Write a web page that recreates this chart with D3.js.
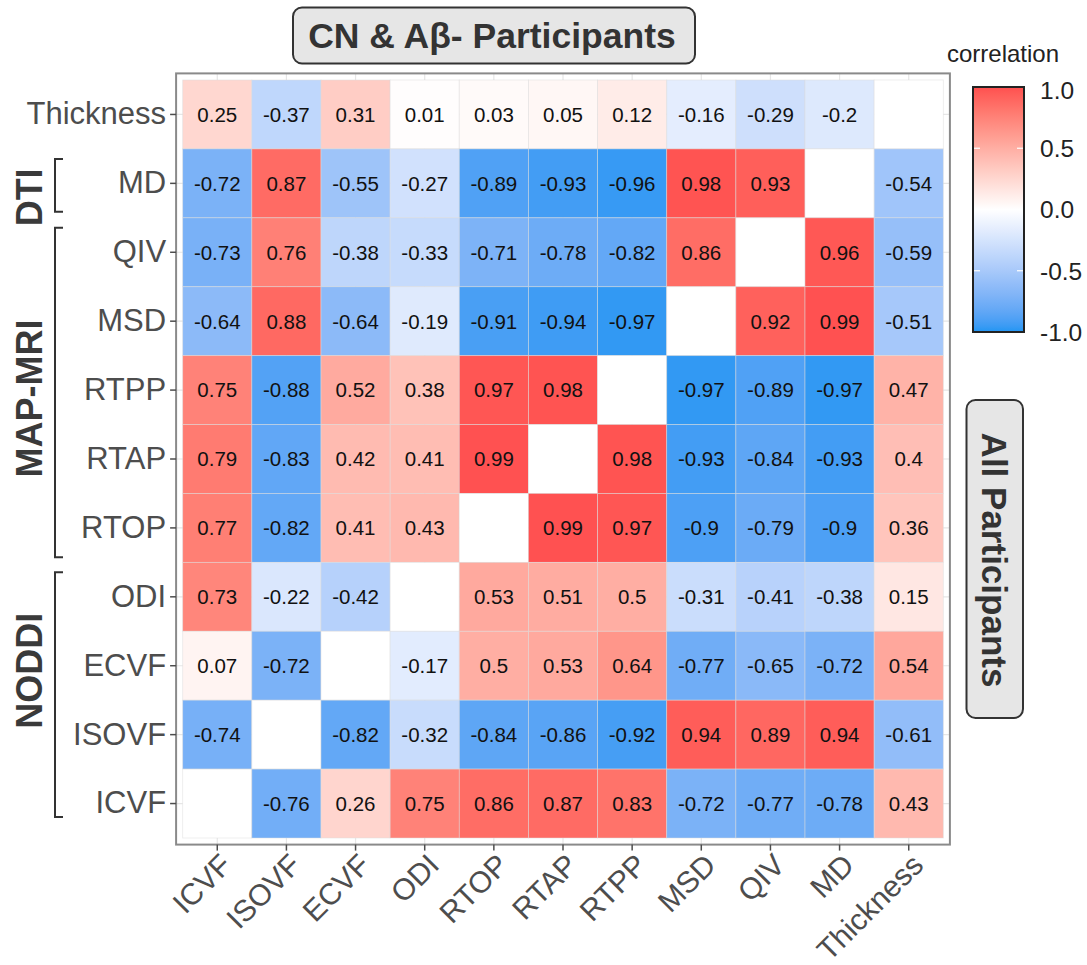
<!DOCTYPE html>
<html>
<head>
<meta charset="utf-8">
<script src="https://cdn.jsdelivr.net/npm/d3@7"></script>
<style>
  html, body { margin: 0; padding: 0; background: #ffffff; }
  svg { display: block; font-family: "Liberation Sans", Arial, Helvetica, sans-serif; }
</style>
</head>
<body>
<svg id="chart" width="1087" height="965"></svg>
<script>
// ---------------- data ----------------
const columns = ["ICVF","ISOVF","ECVF","ODI","RTOP","RTAP","RTPP","MSD","QIV","MD","Thickness"];
const rowsTopToBottom = ["Thickness","MD","QIV","MSD","RTPP","RTAP","RTOP","ODI","ECVF","ISOVF","ICVF"];

const rowThickness = [0.25, -0.37, 0.31, 0.01, 0.03, 0.05, 0.12, -0.16, -0.29, -0.2, null];
const rowMD        = [-0.72, 0.87, -0.55, -0.27, -0.89, -0.93, -0.96, 0.98, 0.93, null, -0.54];
const rowQIV       = [-0.73, 0.76, -0.38, -0.33, -0.71, -0.78, -0.82, 0.86, null, 0.96, -0.59];
const rowMSD       = [-0.64, 0.88, -0.64, -0.19, -0.91, -0.94, -0.97, null, 0.92, 0.99, -0.51];
const rowRTPP      = [0.75, -0.88, 0.52, 0.38, 0.97, 0.98, null, -0.97, -0.89, -0.97, 0.47];
const rowRTAP      = [0.79, -0.83, 0.42, 0.41, 0.99, null, 0.98, -0.93, -0.84, -0.93, 0.4];
const rowRTOP      = [0.77, -0.82, 0.41, 0.43, null, 0.99, 0.97, -0.9, -0.79, -0.9, 0.36];
const rowODI       = [0.73, -0.22, -0.42, null, 0.53, 0.51, 0.5, -0.31, -0.41, -0.38, 0.15];
const rowECVF      = [0.07, -0.72, null, -0.17, 0.5, 0.53, 0.64, -0.77, -0.65, -0.72, 0.54];
const rowISOVF     = [-0.74, null, -0.82, -0.32, -0.84, -0.86, -0.92, 0.94, 0.89, 0.94, -0.61];
const rowICVF      = [null, -0.76, 0.26, 0.75, 0.86, 0.87, 0.83, -0.72, -0.77, -0.78, 0.43];

const matrixRows = [rowThickness, rowMD, rowQIV, rowMSD, rowRTPP, rowRTAP, rowRTOP, rowODI, rowECVF, rowISOVF, rowICVF];

const groupNames = ["DTI", "MAP-MRI", "NODDI"];
const groupFirstRow = ["MD", "QIV", "ODI"];
const groupLastRow = ["MD", "RTOP", "ICVF"];

const legendTicks = [1.0, 0.5, 0.0, -0.5, -1.0];
const legendTitle = "correlation";
const titleText = "CN & Aβ- Participants";
const sideText = "All Participants";

// ---------------- layout ----------------
const svg = d3.select("#chart");
const tileX0 = 182.7, tileX1 = 943.3, tileY0 = 80, tileY1 = 838;
const pad = 6.6;

const x = d3.scaleBand().domain(columns).range([tileX0, tileX1]).padding(0);
const y = d3.scaleBand().domain(rowsTopToBottom).range([tileY0, tileY1]).padding(0);

const lowColor = "#2196F3", midColor = "#FFFFFF", highColor = "#FF4F4F";
const color = v => v >= 0 ? d3.interpolateLab(midColor, highColor)(v) : d3.interpolateLab(midColor, lowColor)(-v);

const cells = [];
rowsTopToBottom.forEach((r, i) => {
  columns.forEach((c, j) => {
    cells.push({ row: r, col: c, value: matrixRows[i][j] });
  });
});

// panel background + grid
const panel = svg.append("g");
panel.append("rect")
  .attr("x", tileX0 - pad).attr("y", tileY0 - pad)
  .attr("width", tileX1 - tileX0 + 2 * pad).attr("height", tileY1 - tileY0 + 2 * pad)
  .attr("fill", "#ffffff");
panel.selectAll("line.vg").data(columns).enter().append("line")
  .attr("x1", d => x(d) + x.bandwidth() / 2).attr("x2", d => x(d) + x.bandwidth() / 2)
  .attr("y1", tileY0 - pad).attr("y2", tileY1 + pad)
  .attr("stroke", "#e6e6e6").attr("stroke-width", 1.2);
panel.selectAll("line.hg").data(rowsTopToBottom).enter().append("line")
  .attr("y1", d => y(d) + y.bandwidth() / 2).attr("y2", d => y(d) + y.bandwidth() / 2)
  .attr("x1", tileX0 - pad).attr("x2", tileX1 + pad)
  .attr("stroke", "#e6e6e6").attr("stroke-width", 1.2);

// tiles
svg.append("g").selectAll("rect").data(cells).enter().append("rect")
  .attr("x", d => x(d.col)).attr("y", d => y(d.row))
  .attr("width", x.bandwidth()).attr("height", y.bandwidth())
  .attr("fill", d => d.value === null ? "#ffffff" : color(d.value))
  .attr("stroke", "#dcdcdc").attr("stroke-opacity", 0.6).attr("stroke-width", 0.8);

// tile labels
svg.append("g").selectAll("text").data(cells.filter(d => d.value !== null)).enter().append("text")
  .attr("x", d => x(d.col) + x.bandwidth() / 2)
  .attr("y", d => y(d.row) + y.bandwidth() / 2)
  .attr("dy", "0.36em")
  .attr("text-anchor", "middle")
  .attr("font-size", 20.5)
  .attr("fill", "#111111")
  .text(d => String(d.value));

// panel border
svg.append("rect")
  .attr("x", tileX0 - pad).attr("y", tileY0 - pad)
  .attr("width", tileX1 - tileX0 + 2 * pad).attr("height", tileY1 - tileY0 + 2 * pad)
  .attr("fill", "none").attr("stroke", "#8a8a8a").attr("stroke-width", 2);

// axes
const leftAxis = svg.append("g")
  .attr("transform", `translate(${tileX0 - pad},0)`)
  .call(d3.axisLeft(y).tickSize(6).tickPadding(4));
leftAxis.select(".domain").remove();
leftAxis.selectAll(".tick line").attr("stroke", "#4d4d4d").attr("stroke-width", 1.5);
leftAxis.selectAll(".tick text")
  .attr("font-size", 31).attr("fill", "#4d4d4d")
  .attr("font-family", "'Liberation Sans', Arial, sans-serif");

const bottomAxis = svg.append("g")
  .attr("transform", `translate(0,${tileY1 + pad})`)
  .call(d3.axisBottom(x).tickSize(6).tickPadding(4));
bottomAxis.select(".domain").remove();
bottomAxis.selectAll(".tick line").attr("stroke", "#4d4d4d").attr("stroke-width", 1.5);
bottomAxis.selectAll(".tick text")
  .attr("font-size", 30).attr("fill", "#4d4d4d")
  .attr("font-family", "'Liberation Sans', Arial, sans-serif")
  .attr("text-anchor", "end")
  .attr("transform", "translate(1,7) rotate(-45)")
  .attr("x", 0).attr("y", 0).attr("dy", "0.72em");

// group brackets
const bracketInsetTop = [10, 10, 10];
const bracketInsetBottom = [6, 5, 21];
const labelCenterOffset = [12, 6, -24];
const bracketX = 55, serif = 8;
const groupsG = svg.append("g");
groupNames.forEach((g, i) => {
  const top = y(groupFirstRow[i]) + bracketInsetTop[i];
  const bot = y(groupLastRow[i]) + y.bandwidth() - bracketInsetBottom[i];
  groupsG.append("path")
    .attr("d", `M${bracketX + serif},${top} H${bracketX} V${bot} H${bracketX + serif}`)
    .attr("fill", "none").attr("stroke", "#333333").attr("stroke-width", 2);
  const cy = (top + bot) / 2 + labelCenterOffset[i];
  groupsG.append("text")
    .attr("transform", `translate(42,${cy}) rotate(-90)`)
    .attr("text-anchor", "middle")
    .attr("font-size", 36).attr("font-weight", "bold").attr("fill", "#3a3a3a")
    .text(g);
});

// title box
const titleG = svg.append("g");
titleG.append("rect")
  .attr("x", 293).attr("y", 7.5).attr("width", 402).attr("height", 56)
  .attr("rx", 9).attr("ry", 9)
  .attr("fill", "#e6e6e6").attr("stroke", "#333333").attr("stroke-width", 2);
titleG.append("text")
  .attr("x", 492).attr("y", 48)
  .attr("text-anchor", "middle")
  .attr("font-size", 35.5).attr("font-weight", "bold").attr("fill", "#333333")
  .text(titleText);

// side box
const sideG = svg.append("g");
sideG.append("rect")
  .attr("x", 966.5).attr("y", 400).attr("width", 56.5).attr("height", 318)
  .attr("rx", 9).attr("ry", 9)
  .attr("fill", "#e6e6e6").attr("stroke", "#333333").attr("stroke-width", 2);
sideG.append("text")
  .attr("transform", "translate(995,560) rotate(90)")
  .attr("text-anchor", "middle").attr("dy", "0.36em")
  .attr("font-size", 35).attr("font-weight", "bold").attr("fill", "#333333")
  .text(sideText);

// legend
const legX = 973, legW = 51, legTop = 87, legBot = 332;
const ly = d3.scaleLinear().domain([-1, 1]).range([legBot, legTop]);
const defs = svg.append("defs");
const grad = defs.append("linearGradient").attr("id", "corrGrad")
  .attr("x1", 0).attr("y1", 1).attr("x2", 0).attr("y2", 0);
d3.range(-1, 1.0001, 0.05).forEach(v => {
  grad.append("stop").attr("offset", ((v + 1) / 2 * 100) + "%").attr("stop-color", color(Math.max(-1, Math.min(1, v))));
});
svg.append("text")
  .attr("x", 947).attr("y", 62)
  .attr("font-size", 24).attr("fill", "#222222")
  .text(legendTitle);
svg.append("rect")
  .attr("x", legX).attr("y", legTop).attr("width", legW).attr("height", legBot - legTop)
  .attr("fill", "url(#corrGrad)");
const legTicks = svg.append("g");
legendTicks.forEach(t => {
  legTicks.append("line")
    .attr("x1", legX).attr("x2", legX + 7).attr("y1", ly(t)).attr("y2", ly(t))
    .attr("stroke", "#ffffff").attr("stroke-width", 1.2);
  legTicks.append("line")
    .attr("x1", legX + legW - 7).attr("x2", legX + legW).attr("y1", ly(t)).attr("y2", ly(t))
    .attr("stroke", "#ffffff").attr("stroke-width", 1.2);
  legTicks.append("text")
    .attr("x", 1040).attr("y", Math.min(Math.max(ly(t), 90), 335))
    .attr("dy", "0.36em")
    .attr("font-size", 24.5).attr("fill", "#222222")
    .text(d3.format(".1f")(t).replace("−", "-"));
});
svg.append("rect")
  .attr("x", legX).attr("y", legTop).attr("width", legW).attr("height", legBot - legTop)
  .attr("fill", "none").attr("stroke", "#222222").attr("stroke-width", 2);
</script>
</body>
</html>
